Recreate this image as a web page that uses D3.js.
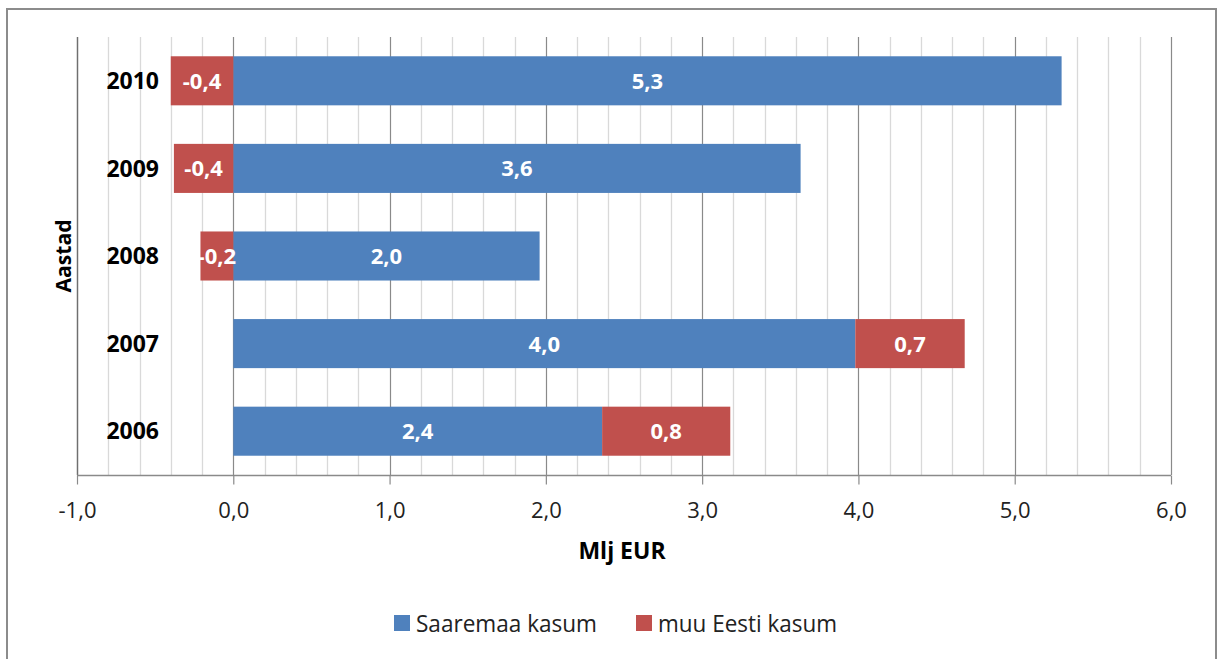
<!DOCTYPE html>
<html>
<head>
<meta charset="utf-8">
<script src="https://cdn.jsdelivr.net/npm/d3@7"></script>
<style>
  html, body { margin: 0; padding: 0; background: #fff; }
  svg { display: block; font-family: "Open Sans", "DejaVu Sans", sans-serif; }
</style>
</head>
<body>
<div id="chart"></div>
<script>
// Data (Mlj EUR)
const years = ["2010", "2009", "2008", "2007", "2006"];
const saaremaa = [5.30, 3.63, 1.96, 3.98, 2.36];
const muuEesti = [-0.40, -0.38, -0.21, 0.70, 0.82];
const seriesNames = ["Saaremaa kasum", "muu Eesti kasum"];
const seriesColors = ["#4F81BD", "#C0504D"];
const xTicks = [-1, 0, 1, 2, 3, 4, 5, 6];

const width = 1220;
const height = 659;
const plot = { left: 77, right: 1171, top: 37, bottom: 475 };

// Estonian style: comma decimal, plain hyphen minus
const locale = d3.formatLocale({ decimal: ",", thousands: " ", grouping: [3], currency: ["", " €"], minus: "-" });
const fmt = locale.format(".1f");

const svg = d3.select("#chart")
  .append("svg")
  .attr("width", width)
  .attr("height", height);

// Chart frame
svg.append("rect")
  .attr("x", 7).attr("y", 9)
  .attr("width", 1209).attr("height", 670)
  .attr("fill", "#fff")
  .attr("stroke", "#8c8c8c")
  .attr("stroke-width", 2);

const x = d3.scaleLinear().domain([-1, 6]).range([plot.left, plot.right]);
const y = d3.scaleBand()
  .domain(years)
  .range([plot.top, plot.bottom])
  .paddingInner(0.44)
  .paddingOuter(0.22);

// Minor gridlines every 0.2
const minor = d3.range(-1, 6.0001, 0.2)
  .map((v) => Math.round(v * 10) / 10)
  .filter((v) => Math.abs(v - Math.round(v)) > 1e-6);

svg.append("g")
  .selectAll("line")
  .data(minor)
  .join("line")
  .attr("x1", (d) => Math.round(x(d)) + 0.5)
  .attr("x2", (d) => Math.round(x(d)) + 0.5)
  .attr("y1", plot.top)
  .attr("y2", plot.bottom)
  .attr("stroke", "#d9d9d9")
  .attr("stroke-width", 1.3);

// Major gridlines
svg.append("g")
  .selectAll("line")
  .data(xTicks)
  .join("line")
  .attr("x1", (d) => Math.round(x(d)) + 0.5)
  .attr("x2", (d) => Math.round(x(d)) + 0.5)
  .attr("y1", plot.top)
  .attr("y2", plot.bottom)
  .attr("stroke", (d) => (d === -1 ? "#6f6f6f" : "#8a8a8a"))
  .attr("stroke-width", 1.2);

// Stacked bars (diverging, negatives go left of zero)
const rows = years.map((yr, i) => ({ year: yr, s0: saaremaa[i], s1: muuEesti[i] }));
const stacked = d3.stack()
  .keys(["s0", "s1"])
  .offset(d3.stackOffsetDiverging)(rows);

const layers = svg.append("g")
  .selectAll("g")
  .data(stacked)
  .join("g")
  .attr("fill", (d, i) => seriesColors[i]);

layers.selectAll("rect")
  .data((d) => d)
  .join("rect")
  .attr("x", (d) => x(Math.min(d[0], d[1])))
  .attr("y", (d) => y(d.data.year))
  .attr("width", (d) => Math.abs(x(d[1]) - x(d[0])))
  .attr("height", y.bandwidth());

// Bar value labels
const labelFs = 22;
stacked.forEach((layer) => {
  svg.append("g")
    .selectAll("text")
    .data(layer)
    .join("text")
    .attr("x", (d) => x((d[0] + d[1]) / 2))
    .attr("y", (d) => y(d.data.year) + y.bandwidth() / 2 + labelFs * 0.36)
    .attr("text-anchor", "middle")
    .attr("fill", "#fff")
    .attr("font-weight", "bold")
    .attr("font-size", labelFs)
    .text((d) => fmt(d.data[layer.key]));
});

// Y axis line
svg.append("line")
  .attr("x1", plot.left + 0.5).attr("x2", plot.left + 0.5)
  .attr("y1", plot.top).attr("y2", plot.bottom)
  .attr("stroke", "#6f6f6f")
  .attr("stroke-width", 1.3);

// Year labels
const yearFs = 23;
svg.append("g")
  .selectAll("text")
  .data(years)
  .join("text")
  .attr("x", 159)
  .attr("y", (d) => y(d) + y.bandwidth() / 2 + yearFs * 0.36)
  .attr("text-anchor", "end")
  .attr("font-weight", "bold")
  .attr("font-size", yearFs)
  .attr("fill", "#000")
  .text((d) => d);

// X axis
const xAxis = svg.append("g")
  .attr("transform", `translate(0,${plot.bottom + 0.5})`)
  .call(d3.axisBottom(x)
    .tickValues(xTicks)
    .tickSize(9)
    .tickPadding(18)
    .tickFormat(fmt));

xAxis.select(".domain").attr("stroke", "#8a8a8a").attr("stroke-width", 1.3)
  .attr("d", `M${plot.left},0H${plot.right}`);
xAxis.selectAll(".tick line").attr("stroke", "#8a8a8a").attr("stroke-width", 1.2);
xAxis.selectAll(".tick text")
  .attr("font-size", 22)
  .attr("font-family", "\"Open Sans\", sans-serif")
  .attr("fill", "#222");

// Axis titles
svg.append("text")
  .attr("x", 622)
  .attr("y", 559)
  .attr("text-anchor", "middle")
  .attr("font-weight", "bold")
  .attr("font-size", 23)
  .attr("fill", "#000")
  .text("Mlj EUR");

svg.append("text")
  .attr("transform", `translate(71,${(plot.top + plot.bottom) / 2}) rotate(-90)`)
  .attr("text-anchor", "middle")
  .attr("font-weight", "bold")
  .attr("font-size", 22)
  .attr("fill", "#000")
  .attr("textLength", 73)
  .attr("lengthAdjust", "spacingAndGlyphs")
  .text("Aastad");

// Legend
const legendItems = [
  { name: seriesNames[0], color: seriesColors[0], sx: 394, tx: 416, len: 181 },
  { name: seriesNames[1], color: seriesColors[1], sx: 636, tx: 658, len: 179 }
];
const legend = svg.append("g");
legend.selectAll("rect")
  .data(legendItems)
  .join("rect")
  .attr("x", (d) => d.sx)
  .attr("y", 615)
  .attr("width", 16)
  .attr("height", 16)
  .attr("fill", (d) => d.color);
legend.selectAll("text")
  .data(legendItems)
  .join("text")
  .attr("x", (d) => d.tx)
  .attr("y", 632)
  .attr("font-size", 24)
  .attr("fill", "#222")
  .attr("textLength", (d) => d.len)
  .attr("lengthAdjust", "spacingAndGlyphs")
  .text((d) => d.name);
</script>
</body>
</html>
